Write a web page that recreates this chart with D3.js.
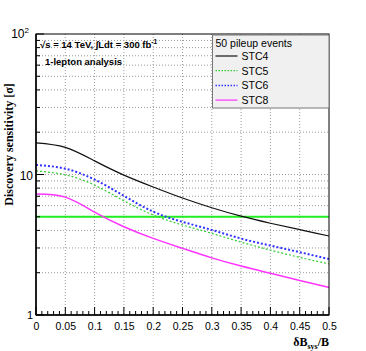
<!DOCTYPE html>
<html>
<head>
<meta charset="utf-8">
<script src="https://cdn.jsdelivr.net/npm/d3@7"></script>
<style>
  body { margin: 0; background: #fff; }
  text { font-family: "Liberation Sans", Arial, sans-serif; }
</style>
</head>
<body>
<div id="chart"></div>
<script>
// values
const xs = [0, 0.05, 0.1, 0.15, 0.2, 0.25, 0.3, 0.35, 0.4, 0.45, 0.5];
const stc4 = [16.8, 15.6, 12.5, 9.9, 8.15, 6.8, 5.8, 5.05, 4.5, 4.05, 3.65];
const stc5 = [10.6, 9.95, 8.4, 6.5, 5.15, 4.37, 3.81, 3.3, 2.9, 2.57, 2.31];
const stc6 = [11.7, 11.0, 9.2, 7.05, 5.44, 4.6, 4.03, 3.5, 3.12, 2.8, 2.5];
const stc8 = [7.27, 6.9, 5.4, 4.25, 3.51, 2.98, 2.55, 2.23, 1.98, 1.76, 1.57];
const threshold = 5;
const xTicks = [0, 0.05, 0.1, 0.15, 0.2, 0.25, 0.3, 0.35, 0.4, 0.45, 0.5];
const seriesNames = ["STC4", "STC5", "STC6", "STC8"];

const W = 366, H = 351;
const margin = { top: 34, right: 37, bottom: 36, left: 36 };
const width = W - margin.left - margin.right;
const height = H - margin.top - margin.bottom;

const svg = d3.select("#chart").append("svg")
  .attr("width", W).attr("height", H);

const g = svg.append("g")
  .attr("transform", `translate(${margin.left},${margin.top})`);

const x = d3.scaleLinear().domain([0, 0.5]).range([0, width]);
const y = d3.scaleLog().domain([1, 100]).range([height, 0]);

// grid
const minorY = [];
for (const d of [1, 10]) for (let k = 2; k <= 9; k++) minorY.push(d * k);
minorY.push(10);
g.selectAll(".hgrid").data(minorY).enter().append("line")
  .attr("x1", 0).attr("x2", width)
  .attr("y1", d => y(d)).attr("y2", d => y(d))
  .attr("stroke", "#999").attr("stroke-dasharray", "1,2");
g.selectAll(".vgrid").data(xTicks.slice(1, -1)).enter().append("line")
  .attr("y1", 0).attr("y2", height)
  .attr("x1", d => x(d)).attr("x2", d => x(d))
  .attr("stroke", "#999").attr("stroke-dasharray", "1,2");

// 5 sigma line
g.append("line")
  .attr("x1", 0).attr("x2", width)
  .attr("y1", y(threshold)).attr("y2", y(threshold))
  .attr("stroke", "#22ee22").attr("stroke-width", 2);

const styles = {
  STC4: { color: "#111", width: 1.2, dash: null },
  STC5: { color: "#33cc33", width: 1.2, dash: "2,2" },
  STC6: { color: "#3333ff", width: 2, dash: "2,2" },
  STC8: { color: "#ff33ff", width: 1.5, dash: null }
};
const seriesData = [stc4, stc5, stc6, stc8];

const line = d3.line()
  .x((d, i) => x(xs[i]))
  .y(d => y(d))
  .curve(d3.curveNatural);

seriesNames.forEach((name, i) => {
  g.append("path")
    .datum(seriesData[i])
    .attr("fill", "none")
    .attr("stroke", styles[name].color)
    .attr("stroke-width", styles[name].width)
    .attr("stroke-dasharray", styles[name].dash)
    .attr("d", line);
});

// frame
g.append("rect")
  .attr("width", width).attr("height", height)
  .attr("fill", "none").attr("stroke", "#000").attr("stroke-width", 1);

// x axis ticks (inward)
const xAxis = g.append("g").attr("transform", `translate(0,${height})`);
xAxis.call(d3.axisBottom(x).tickValues(xTicks).tickSize(0).tickFormat(d3.format("")))
  .call(a => a.select(".domain").remove())
  .call(a => a.selectAll("text").attr("dy", "1.1em").attr("font-size", 10.5)
    .attr("fill", "#000").style("font-family", "Liberation Sans, Arial, sans-serif"));
const xMinor = d3.range(0, 51).map(i => i / 100);
xAxis.selectAll(".xm").data(xMinor).enter().append("line")
  .attr("x1", d => x(d)).attr("x2", d => x(d))
  .attr("y1", 0).attr("y2", (d, i) => i % 5 === 0 ? -8 : -4)
  .attr("stroke", "#000");
xAxis.append("line").attr("x1", 0).attr("x2", width).attr("stroke", "#000").attr("stroke-width", 1.5);

// y axis
const yAxis = g.append("g");
yAxis.append("line").attr("y1", 0).attr("y2", height).attr("stroke", "#000").attr("stroke-width", 1.5);
yAxis.selectAll(".ym").data(minorY.concat([1, 100])).enter().append("line")
  .attr("y1", d => y(d)).attr("y2", d => y(d))
  .attr("x1", 0).attr("x2", d => (d === 1 || d === 10 || d === 100) ? 8 : 4)
  .attr("stroke", "#000");
yAxis.append("text").attr("x", -3).attr("y", y(10) + 5)
  .attr("text-anchor", "end").attr("font-size", 12).text("10");
yAxis.append("text").attr("x", -3).attr("y", y(1) + 4)
  .attr("text-anchor", "end").attr("font-size", 11).text("1");
const t100 = yAxis.append("text").attr("x", -7).attr("y", y(100) + 4)
  .attr("text-anchor", "end").attr("font-size", 12);
t100.append("tspan").text("10");
t100.append("tspan").attr("dy", -5).attr("font-size", 8).text("2");

// axis titles
svg.append("text")
  .attr("transform", `translate(13,${margin.top + height / 2 - 30}) rotate(-90)`)
  .attr("text-anchor", "middle")
  .style("font-family", "Liberation Serif, Times New Roman, serif")
  .attr("font-weight", "bold").attr("font-size", 12)
  .text("Discovery sensitivity [σ]");

const xt = svg.append("text")
  .attr("x", margin.left + width).attr("y", 346)
  .attr("text-anchor", "end")
  .style("font-family", "Liberation Serif, Times New Roman, serif")
  .attr("font-weight", "bold").attr("font-size", 12);
xt.append("tspan").text("δB");
xt.append("tspan").attr("dy", 3).attr("font-size", 8).text("sys");
xt.append("tspan").attr("dy", -3).text("/B");

// annotations
const ann = svg.append("g").attr("font-weight", "bold").attr("font-size", 9.5);
const a1 = ann.append("text").attr("x", 40).attr("y", 48);
a1.append("tspan").text("√s = 14 TeV, ∫Ldt = 300 fb");
a1.append("tspan").attr("dy", -4).attr("font-size", 6.5).text("-1");
ann.append("text").attr("x", 45).attr("y", 65).text("1-lepton analysis");

// legend
const lg = svg.append("g").attr("transform", "translate(212.5,35)");
lg.append("rect").attr("width", 116.5).attr("height", 73)
  .attr("fill", "#f0f0f0").attr("stroke", "#777").attr("stroke-width", 1);
lg.append("text").attr("x", 3).attr("y", 12).attr("font-size", 10.5).text("50 pileup events");
seriesNames.forEach((name, i) => {
  const yy = 21 + i * 14.7;
  lg.append("line").attr("x1", 3).attr("x2", 25).attr("y1", yy).attr("y2", yy)
    .attr("stroke", styles[name].color)
    .attr("stroke-width", name === "STC6" ? 1.5 : 1.2)
    .attr("stroke-dasharray", styles[name].dash ? "1.5,1.5" : null);
  lg.append("text").attr("x", 29).attr("y", yy + 4).attr("font-size", 10.5).text(name);
});
</script>
</body>
</html>
